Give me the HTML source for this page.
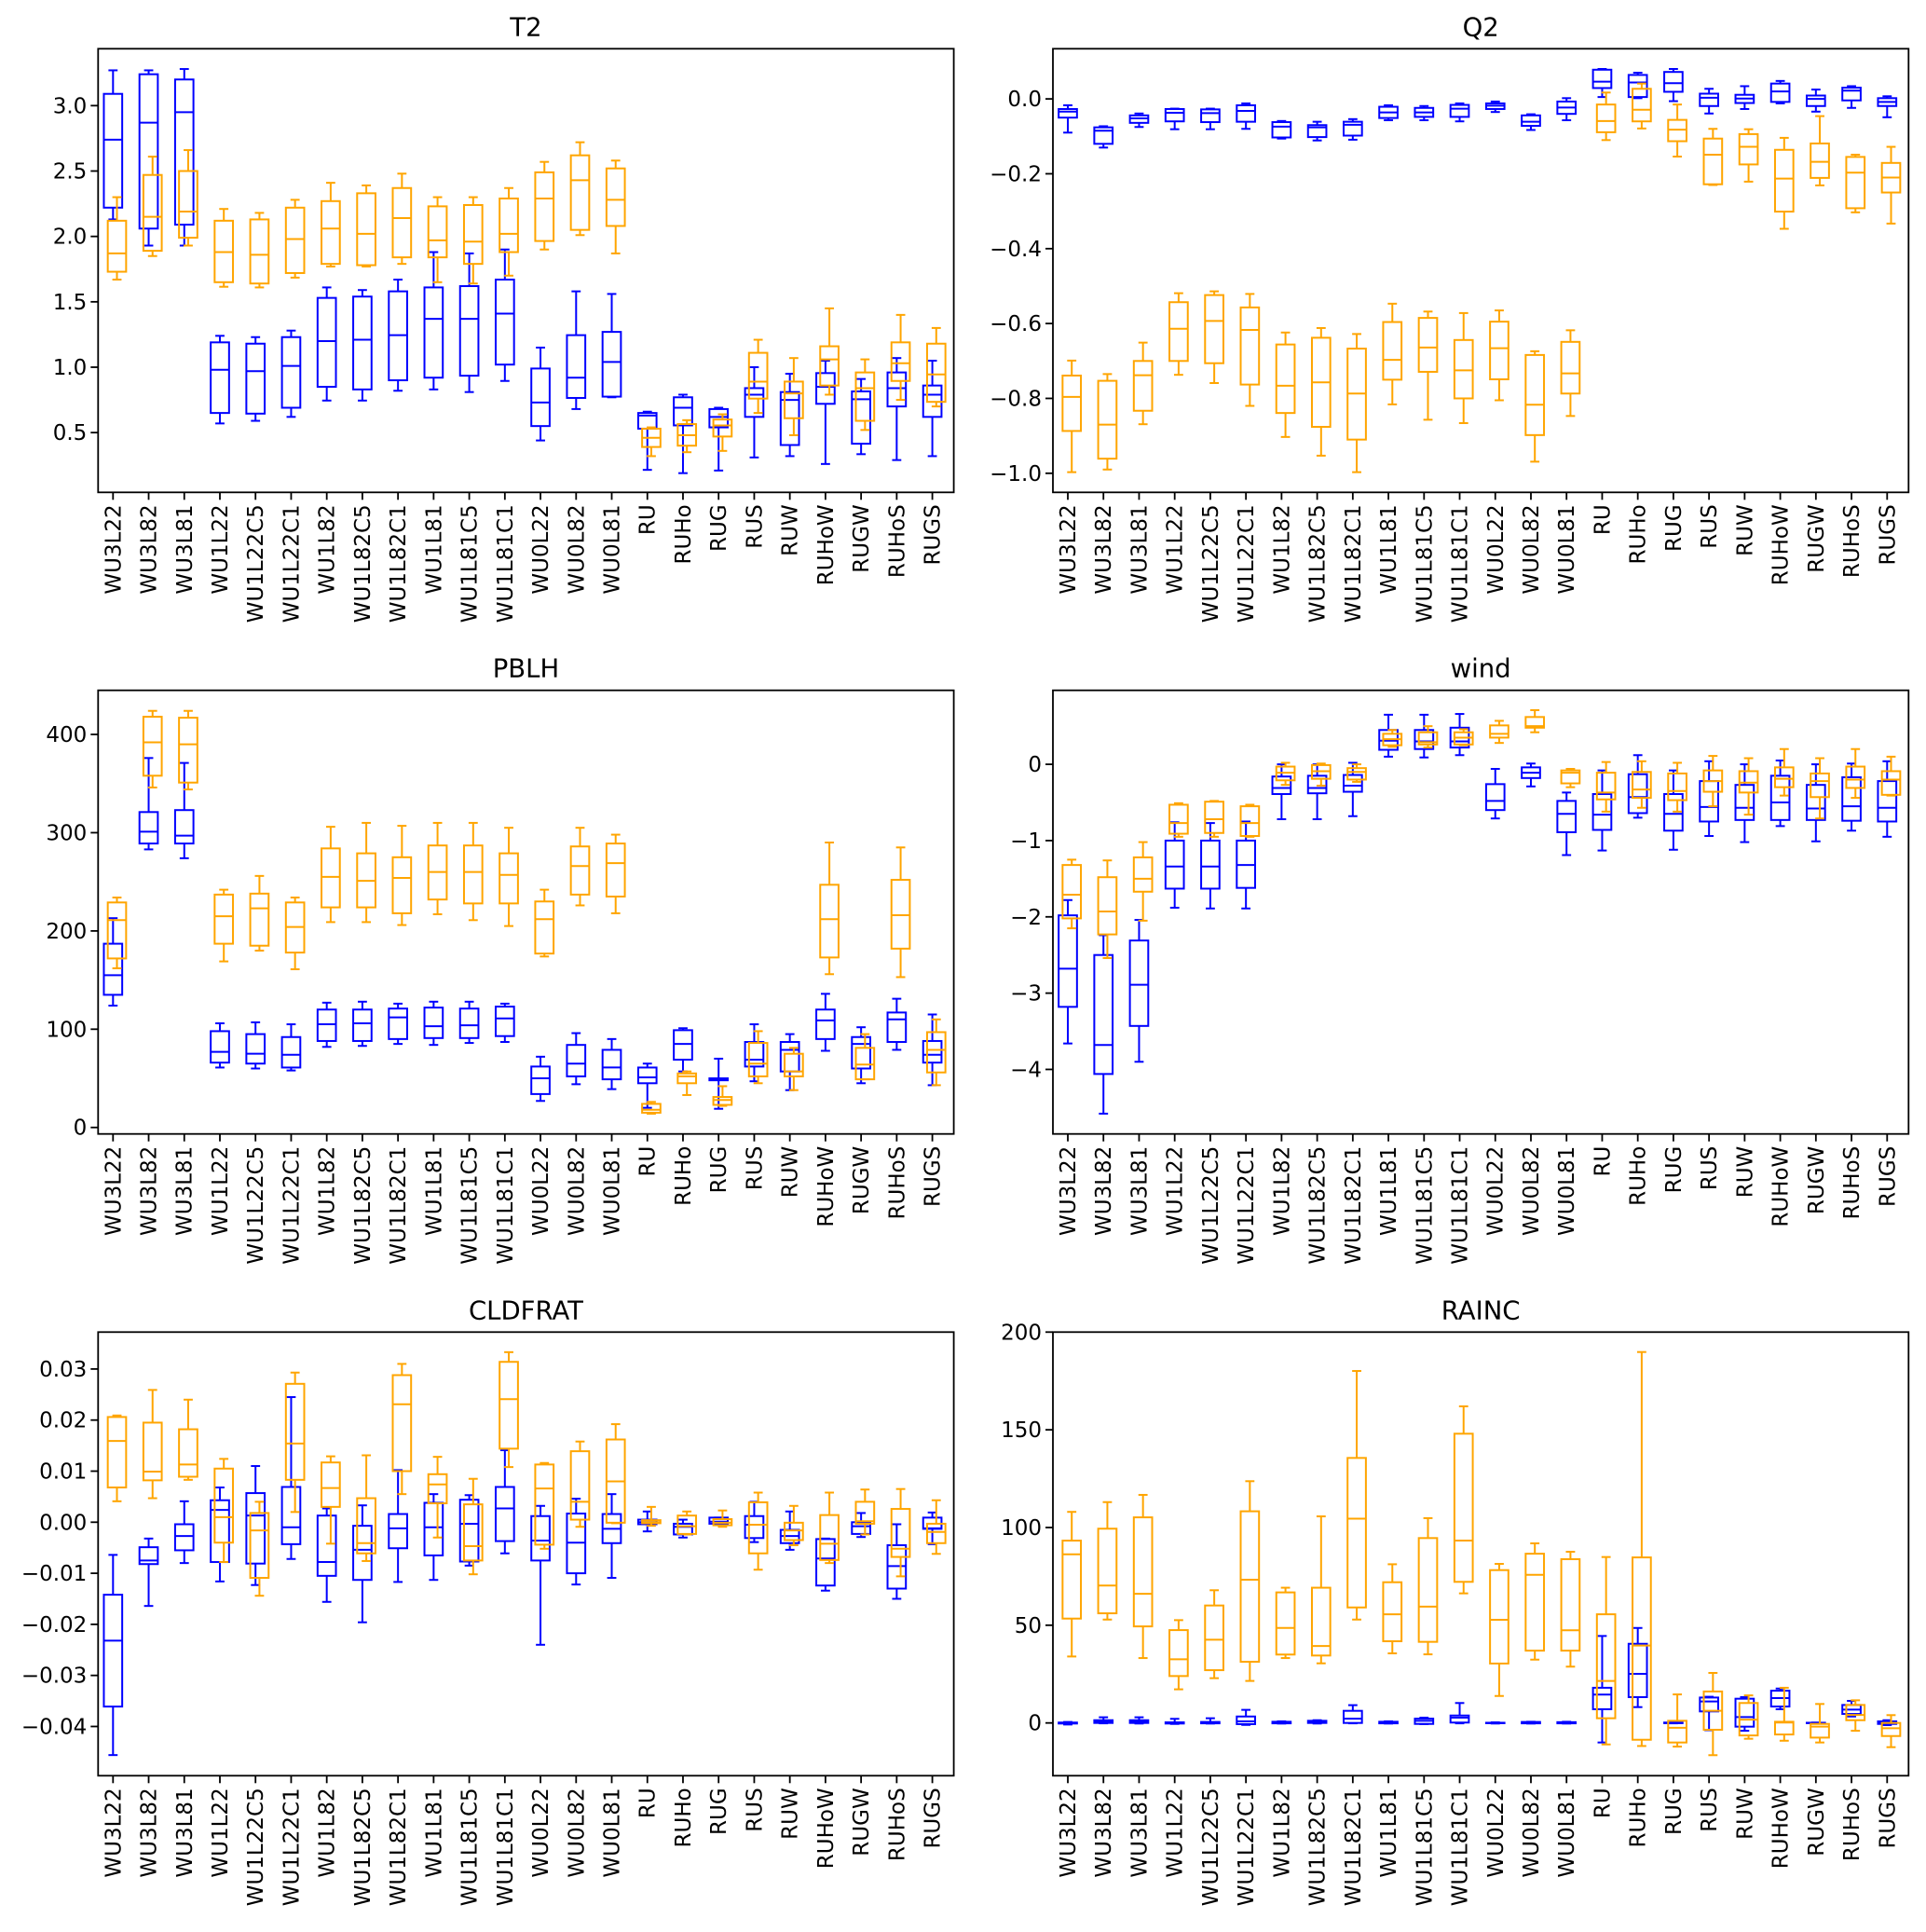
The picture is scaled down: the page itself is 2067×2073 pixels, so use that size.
<!DOCTYPE html>
<html><head><meta charset="utf-8"><title>Box plots</title>
<style>html,body{margin:0;padding:0;background:#fff;}svg{display:block;font-family:"DejaVu Sans","Liberation Sans",sans-serif;}</style>
</head><body>
<svg id="chart" xmlns="http://www.w3.org/2000/svg" width="2067" height="2073" viewBox="0 0 2067 2073"></svg>
<script>
const categories = ["WU3L22","WU3L82","WU3L81","WU1L22","WU1L22C5","WU1L22C1","WU1L82","WU1L82C5","WU1L82C1","WU1L81","WU1L81C5","WU1L81C1","WU0L22","WU0L82","WU0L81","RU","RUHo","RUG","RUS","RUW","RUHoW","RUGW","RUHoS","RUGS"];
// each entry: [whiskerLow, q1, median, q3, whiskerHigh]
const t2Blue = [[2.13,2.22,2.74,3.09,3.27],[1.93,2.06,2.87,3.24,3.27],[1.93,2.09,2.95,3.20,3.28],[0.57,0.65,0.98,1.19,1.24],[0.59,0.645,0.97,1.18,1.23],[0.62,0.69,1.01,1.23,1.28],[0.745,0.85,1.20,1.53,1.61],[0.745,0.83,1.21,1.54,1.59],[0.82,0.90,1.245,1.58,1.67],[0.83,0.92,1.37,1.61,1.88],[0.81,0.935,1.37,1.62,1.87],[0.895,1.02,1.41,1.67,1.90],[0.44,0.55,0.73,0.99,1.15],[0.68,0.765,0.92,1.245,1.58],[0.77,0.775,1.04,1.27,1.56],[0.215,0.53,0.63,0.65,0.66],[0.19,0.555,0.69,0.77,0.79],[0.21,0.54,0.62,0.68,0.69],[0.31,0.62,0.79,0.84,1.00],[0.32,0.405,0.75,0.81,0.95],[0.26,0.72,0.85,0.955,1.05],[0.335,0.415,0.755,0.815,0.91],[0.29,0.70,0.84,0.96,1.07],[0.32,0.62,0.79,0.86,1.05]];
const t2Orange = [[1.67,1.73,1.87,2.12,2.30],[1.85,1.89,2.15,2.47,2.61],[1.93,1.99,2.19,2.50,2.66],[1.615,1.65,1.88,2.12,2.21],[1.61,1.64,1.86,2.13,2.18],[1.685,1.72,1.98,2.22,2.28],[1.77,1.79,2.06,2.27,2.41],[1.77,1.78,2.02,2.33,2.39],[1.79,1.84,2.14,2.37,2.48],[1.65,1.84,1.97,2.23,2.30],[1.64,1.79,1.96,2.24,2.30],[1.70,1.88,2.02,2.29,2.37],[1.90,1.965,2.29,2.49,2.57],[2.01,2.05,2.43,2.62,2.72],[1.87,2.08,2.28,2.52,2.58],[0.32,0.39,0.46,0.53,0.54],[0.35,0.40,0.48,0.565,0.595],[0.36,0.47,0.555,0.60,0.64],[0.65,0.76,0.89,1.11,1.21],[0.48,0.61,0.80,0.89,1.07],[0.79,0.86,1.06,1.16,1.45],[0.52,0.59,0.84,0.96,1.06],[0.75,0.895,1.03,1.19,1.40],[0.70,0.735,0.945,1.18,1.30]];
const q2Blue = [[-0.09,-0.05,-0.034,-0.027,-0.017],[-0.13,-0.12,-0.085,-0.076,-0.073],[-0.075,-0.064,-0.052,-0.044,-0.039],[-0.081,-0.06,-0.037,-0.027,-0.026],[-0.081,-0.062,-0.038,-0.028,-0.026],[-0.08,-0.061,-0.032,-0.017,-0.012],[-0.106,-0.103,-0.074,-0.062,-0.059],[-0.111,-0.102,-0.076,-0.07,-0.061],[-0.109,-0.098,-0.069,-0.061,-0.054],[-0.057,-0.051,-0.036,-0.021,-0.017],[-0.057,-0.048,-0.036,-0.024,-0.019],[-0.06,-0.048,-0.026,-0.016,-0.012],[-0.035,-0.027,-0.018,-0.012,-0.007],[-0.083,-0.072,-0.061,-0.044,-0.041],[-0.057,-0.04,-0.023,-0.007,0.002],[0.005,0.029,0.046,0.078,0.08],[0.002,0.005,0.044,0.064,0.07],[-0.006,0.019,0.042,0.072,0.08],[-0.039,-0.019,0.003,0.014,0.027],[-0.027,-0.011,0.001,0.011,0.034],[-0.012,-0.008,0.02,0.041,0.048],[-0.034,-0.019,0,0.009,0.025],[-0.024,-0.004,0.022,0.03,0.034],[-0.049,-0.019,-0.008,0.002,0.007]];
const q2Orange = [[-0.997,-0.887,-0.796,-0.739,-0.699],[-0.99,-0.961,-0.87,-0.753,-0.735],[-0.869,-0.833,-0.738,-0.70,-0.651],[-0.737,-0.70,-0.614,-0.543,-0.519],[-0.759,-0.706,-0.593,-0.524,-0.514],[-0.82,-0.763,-0.617,-0.557,-0.521],[-0.903,-0.839,-0.766,-0.656,-0.624],[-0.953,-0.876,-0.757,-0.638,-0.612],[-0.997,-0.91,-0.787,-0.667,-0.628],[-0.816,-0.75,-0.697,-0.596,-0.547],[-0.857,-0.729,-0.664,-0.585,-0.568],[-0.866,-0.80,-0.725,-0.644,-0.572],[-0.805,-0.749,-0.666,-0.595,-0.565],[-0.969,-0.898,-0.817,-0.684,-0.674],[-0.847,-0.787,-0.733,-0.649,-0.618],[-0.11,-0.089,-0.059,-0.015,0.017],[-0.079,-0.06,-0.029,0.027,0.041],[-0.154,-0.113,-0.082,-0.056,-0.015],[-0.23,-0.228,-0.149,-0.106,-0.08],[-0.221,-0.175,-0.128,-0.094,-0.081],[-0.347,-0.301,-0.213,-0.136,-0.104],[-0.231,-0.211,-0.168,-0.119,-0.046],[-0.303,-0.292,-0.197,-0.155,-0.149],[-0.333,-0.25,-0.21,-0.171,-0.128]];
const pblhBlue = [[124,135,155,187,213],[283,289,301,321,376],[274,289,297,323,371],[61,66,77,98,106],[60,65,75,95,107],[58,61,74,92,105],[82,88,105,120,127],[83,88,106,120,128],[85,90,112,121,126],[84,91,103,122,128],[86,91,104,121,128],[87,93,111,123,126],[27,34,50,62,72],[44,52,65,84,96],[39,49,61,79,90],[20,45,51,61,65],[57,69,85,99,101],[19,48,49,50,70],[47,62,69,87,105],[38,57,79,87,95],[78,90,109,120,136],[45,60,85,92,102],[79,87,110,117,131],[43,66,74,88,115]];
const pblhOrange = [[162,172,211,229,234],[346,358,392,418,424],[344,351,390,417,424],[169,187,215,237,242],[180,185,223,238,256],[161,178,204,229,234],[209,224,255,284,306],[209,224,251,279,310],[206,218,254,275,307],[217,232,260,287,310],[211,228,260,287,310],[205,228,257,279,305],[174,177,212,230,242],[226,237,266,286,305],[218,235,269,289,298],[14,15,18,24,26],[33,45,52,55,57],[22,23,28,31,42],[45,52,65,86,98],[38,52,57,75,81],[156,173,212,247,290],[49,49,64,81,95],[153,182,216,252,285],[43,56,79,97,110]];
const windBlue = [[-3.66,-3.18,-2.68,-1.98,-1.78],[-4.58,-4.06,-3.68,-2.50,-2.24],[-3.90,-3.43,-2.89,-2.31,-2.04],[-1.88,-1.63,-1.34,-1.0,-0.76],[-1.89,-1.63,-1.34,-1.0,-0.77],[-1.89,-1.62,-1.32,-1.0,-0.75],[-0.72,-0.39,-0.31,-0.16,0],[-0.72,-0.38,-0.31,-0.15,0],[-0.68,-0.36,-0.28,-0.14,0.02],[0.10,0.19,0.31,0.45,0.65],[0.09,0.20,0.30,0.45,0.65],[0.12,0.22,0.30,0.48,0.66],[-0.71,-0.60,-0.48,-0.26,-0.06],[-0.29,-0.18,-0.11,-0.04,0.01],[-1.19,-0.89,-0.65,-0.48,-0.37],[-1.13,-0.86,-0.66,-0.39,-0.08],[-0.70,-0.64,-0.43,-0.13,0.12],[-1.12,-0.87,-0.65,-0.39,-0.08],[-0.94,-0.75,-0.56,-0.22,0.04],[-1.02,-0.73,-0.57,-0.27,0],[-0.81,-0.73,-0.50,-0.15,0.05],[-1.01,-0.73,-0.58,-0.27,0],[-0.87,-0.74,-0.55,-0.17,0.01],[-0.95,-0.75,-0.57,-0.22,0.04]];
const windOrange = [[-2.15,-2.02,-1.71,-1.32,-1.25],[-2.54,-2.23,-1.93,-1.48,-1.26],[-2.05,-1.67,-1.50,-1.22,-1.02],[-0.95,-0.91,-0.77,-0.53,-0.51],[-0.95,-0.90,-0.72,-0.49,-0.48],[-0.95,-0.94,-0.77,-0.55,-0.53],[-0.27,-0.21,-0.11,-0.03,0.02],[-0.28,-0.19,-0.09,-0.01,0.01],[-0.23,-0.20,-0.10,-0.05,0],[0.23,0.25,0.33,0.40,0.45],[0.22,0.26,0.29,0.42,0.50],[0.25,0.26,0.35,0.42,0.46],[0.28,0.35,0.40,0.51,0.57],[0.42,0.48,0.50,0.62,0.71],[-0.30,-0.25,-0.11,-0.08,-0.06],[-0.62,-0.46,-0.37,-0.11,0.03],[-0.57,-0.44,-0.33,-0.10,0.04],[-0.62,-0.47,-0.35,-0.12,0.02],[-0.55,-0.36,-0.22,-0.08,0.11],[-0.66,-0.37,-0.24,-0.09,0.08],[-0.41,-0.30,-0.19,-0.04,0.20],[-0.71,-0.43,-0.22,-0.12,0.08],[-0.44,-0.31,-0.20,-0.03,0.20],[-0.41,-0.40,-0.20,-0.09,0.10]];
// CLDFRAT values in units of 0.001
const cldBlue = [[-45.6,-36.1,-23.2,-14.2,-6.4],[-16.4,-8.2,-7.5,-4.9,-3.2],[-8.0,-5.5,-2.7,-0.4,4.1],[-11.6,-7.8,2.4,4.3,6.8],[-12.3,-8.1,1.3,5.7,11.0],[-7.2,-4.3,-1.0,6.9,24.5],[-15.6,-10.5,-7.8,1.3,2.7],[-19.6,-11.3,-5.4,-0.7,3.3],[-11.7,-5.1,-1.2,1.6,10.2],[-11.3,-6.5,-1.0,3.8,5.5],[-8.5,-7.7,-0.3,4.4,5.3],[-6.1,-3.7,2.7,6.9,14.1],[-24.0,-7.5,-3.6,1.2,3.2],[-12.2,-10.0,-4.0,1.7,4.6],[-10.9,-4.1,-1.3,1.6,5.5],[-1.8,-0.4,0,0.5,2.1],[-3.0,-2.4,-0.9,-0.3,0.5],[-0.4,-0.3,0.1,0.9,0.9],[-3.9,-3.1,-0.5,1.2,4.0],[-5.4,-4.1,-2.7,-1.5,2.1],[-13.4,-12.4,-7.1,-3.3,-3.2],[-2.9,-2.3,-0.8,0,1.8],[-15.0,-13.0,-8.6,-4.5,-0.4],[-4.3,-1.3,-1.2,0.9,1.9]];
const cldOrange = [[4.1,6.8,15.9,20.6,20.9],[4.7,8.2,9.9,19.5,25.9],[8.3,8.9,11.3,18.2,24.0],[-7.8,-4.0,1.0,10.5,12.4],[-14.4,-10.9,-1.6,1.8,4.0],[2.0,8.3,15.4,27.1,29.3],[-4.2,3.0,6.7,11.7,12.9],[-7.6,-6.1,-4.1,4.7,13.1],[5.5,10.0,23.1,28.8,31.0],[-3.0,3.7,7.4,9.4,12.8],[-10.2,-7.5,-4.7,3.5,8.5],[10.8,14.4,24.1,31.4,33.3],[-5.2,-4.4,6.6,11.3,11.6],[-0.9,0.5,4.0,13.9,15.8],[-0.2,-0.1,8.0,16.2,19.2],[-0.7,-0.2,0,0.4,3.0],[-2.4,-2.3,-0.8,1.3,2.1],[-0.9,-0.6,-0.1,0.6,2.3],[-9.3,-6.1,-0.5,3.9,5.8],[-4.5,-3.5,-1.6,-0.1,3.2],[-8.0,-7.4,-4.2,1.4,5.8],[-2.4,-0.3,0.2,4.0,6.4],[-10.6,-6.8,-5.2,2.6,6.5],[-6.2,-4.1,-1.9,-0.3,4.3]];
const raincBlue = [[-0.8,-0.3,0,0.2,0.5],[-0.2,0,0.6,1.4,2.9],[-0.3,0,0.6,1.4,2.9],[-0.5,-0.3,0,0.3,2.1],[-0.3,-0.2,0.2,0.5,2.4],[-1.0,-0.6,0.8,3.3,6.7],[-0.3,-0.2,0.3,0.6,0.8],[-0.3,0,0.5,1.1,1.4],[-0.2,0,2.2,6.2,9.1],[-0.3,-0.2,0.3,0.6,0.8],[-0.6,-0.5,1.1,2.2,2.7],[-0.2,0.2,2.7,3.8,10.2],[-0.3,-0.1,0,0.1,0.3],[-0.3,-0.2,0.2,0.5,0.6],[-0.3,-0.2,0.1,0.4,0.6],[-10.0,7.0,14.5,18.0,44.5],[8.1,13.2,25.1,40.5,48.6],[-0.2,-0.1,0,0.2,0.2],[-3.7,5.9,11.0,13.0,13.4],[-4.0,-1.9,3.0,12.4,13.2],[7.0,8.4,12.7,16.5,17.6],[-0.2,-0.1,0,0.1,0.2],[3.3,4.6,6.8,9.2,11.3],[-1.1,-0.5,0.2,0.8,1.4]];
const raincOrange = [[34.0,53.4,86.3,93.3,108],[52.9,56.1,70.3,99.4,113],[33.2,49.4,66.1,105.2,116.7],[17.2,24.0,32.6,47.5,52.6],[22.9,27.0,42.6,60.1,67.9],[21.5,31.3,73.3,108.3,123.7],[33.2,35.0,48.6,66.8,69.2],[30.5,34.5,39.4,69.2,105.7],[52.9,59.1,104.5,135.6,180.1],[35.6,41.8,55.6,72.0,81.2],[35.1,41.5,59.5,94.6,104.8],[66.3,72.2,93.3,148.0,162.0],[13.8,30.4,52.8,78.2,81.4],[32.4,37.0,75.8,86.6,91.9],[28.8,37.0,47.4,83.8,87.6],[-11.0,2.4,21.5,55.6,84.9],[-11.8,-8.6,39.6,84.7,189.8],[-12.1,-10.0,-2.5,1.1,14.6],[-16.5,-3.5,6.2,16.1,25.6],[-8.1,-6.4,1.7,10.2,14.1],[-9.1,-5.9,0.2,0.6,18.0],[-10.0,-7.5,-1.9,-0.5,9.7],[-4.0,1.4,4.1,9.2,11.6],[-12.4,-6.7,-2.7,0,4.0]];
const t2Ticks = [0.5,1.0,1.5,2.0,2.5,3.0];
const t2TickLabels = ["0.5","1.0","1.5","2.0","2.5","3.0"];
const q2Ticks = [0,-0.2,-0.4,-0.6,-0.8,-1.0];
const q2TickLabels = ["0.0","\u22120.2","\u22120.4","\u22120.6","\u22120.8","\u22121.0"];
const pblhTicks = [0,100,200,300,400];
const pblhTickLabels = ["0","100","200","300","400"];
const windTicks = [0,-1,-2,-3,-4];
const windTickLabels = ["0","\u22121","\u22122","\u22123","\u22124"];
const cldTicks = [30,20,10,0,-10,-20,-30,-40];
const cldTickLabels = ["0.03","0.02","0.01","0.00","\u22120.01","\u22120.02","\u22120.03","\u22120.04"];
const raincTicks = [0,50,100,150,200];
const raincTickLabels = ["0","50","100","150","200"];

const NS = "http://www.w3.org/2000/svg";
const svg = document.getElementById("chart");
function mk(tag, attrs, parent){const e=document.createElementNS(NS,tag);for(const k in attrs)e.setAttribute(k,attrs[k]);(parent||svg).appendChild(e);return e;}

const panels = [
 {name:"t2",title:"T2",x0:105.3,y0:52.3,ymin:0.043,ymax:3.435,blue:t2Blue,orange:t2Orange,ticks:t2Ticks,labels:t2TickLabels},
 {name:"q2",title:"Q2",x0:1130,y0:52.3,ymin:-1.051,ymax:0.134,blue:q2Blue,orange:q2Orange,ticks:q2Ticks,labels:q2TickLabels},
 {name:"pblh",title:"PBLH",x0:105.3,y0:740.7,ymin:-6.6,ymax:444.9,blue:pblhBlue,orange:pblhOrange,ticks:pblhTicks,labels:pblhTickLabels},
 {name:"wind",title:"wind",x0:1130,y0:740.7,ymin:-4.846,ymax:0.97,blue:windBlue,orange:windOrange,ticks:windTicks,labels:windTickLabels},
 {name:"cldfrat",title:"CLDFRAT",x0:105.3,y0:1429.3,ymin:-49.64,ymax:37.23,blue:cldBlue,orange:cldOrange,ticks:cldTicks,labels:cldTickLabels},
 {name:"rainc",title:"RAINC",x0:1130,y0:1429.3,ymin:-27,ymax:200,blue:raincBlue,orange:raincOrange,ticks:raincTicks,labels:raincTickLabels}
];
const W = 918.3, H = 476, STEP = 38.23, FIRST = 16, BOXW = 0.515, ORANGE_OFF = 0.11;

panels.forEach(p => {
  const g = mk("g", {});
  
  
  const xS = pos => p.x0 + FIRST + (pos - 1) * STEP;
  const yS = v => p.y0 + H - (v - p.ymin) / (p.ymax - p.ymin) * H;

  const title = mk("text", {x:p.x0 + W/2, y:p.y0 - 14, "text-anchor":"middle", "font-size":"27.5", fill:"#000"}, g);
  title.textContent = p.title;
  
  

  // y ticks
  p.ticks.forEach((t, i) => {
    const y = yS(t);
    const tk = mk("line", {x1:p.x0 - 8, x2:p.x0, y1:y, y2:y, stroke:"#000", "stroke-width":"1.8"}, g);
    
    
    const lb = mk("text", {x:p.x0 - 12, y:y + 8, "text-anchor":"end", "font-size":"23", fill:"#000"}, g);
    lb.textContent = p.labels[i];
    
    
  });
  // x ticks
  categories.forEach((c, i) => {
    const x = xS(i + 1);
    const tk = mk("line", {x1:x, x2:x, y1:p.y0 + H, y2:p.y0 + H + 8, stroke:"#000", "stroke-width":"1.8"}, g);
    
    
    const ty = p.y0 + H + 13;
    const lb = mk("text", {x:x + 8, y:ty, "text-anchor":"end", "font-size":"23", fill:"#000", transform:"rotate(-90 " + (x + 8) + " " + ty + ")"}, g);
    lb.textContent = c;
    
    
  });

  function drawSeries(data, color, off, sname) {
    data.forEach((d, i) => {
      const cx = xS(i + 1 + off);
      const hw = BOXW * STEP / 2, cw = hw / 2;
      const bg = mk("g", {stroke:color, "stroke-width":"2", fill:"none"}, g);
      
      
      const [lo, q1, med, q3, hi] = d.map(yS);
      mk("rect", {x:cx - hw, y:Math.min(q1, q3), width:hw * 2, height:Math.max(0.5, Math.abs(q1 - q3))}, bg);
      mk("line", {x1:cx, x2:cx, y1:q1, y2:lo}, bg);
      mk("line", {x1:cx, x2:cx, y1:q3, y2:hi}, bg);
      mk("line", {x1:cx - cw, x2:cx + cw, y1:lo, y2:lo}, bg);
      mk("line", {x1:cx - cw, x2:cx + cw, y1:hi, y2:hi}, bg);
      mk("line", {x1:cx - hw, x2:cx + hw, y1:med, y2:med}, bg);
    });
  }
  drawSeries(p.blue, "#0000ff", 0, "blue");
  drawSeries(p.orange, "#ffa500", ORANGE_OFF, "orange");

  const frame = mk("rect", {x:p.x0, y:p.y0, width:W, height:H, fill:"none", stroke:"#000", "stroke-width":"1.8"}, g);
  
  
});
</script>
</body></html>
